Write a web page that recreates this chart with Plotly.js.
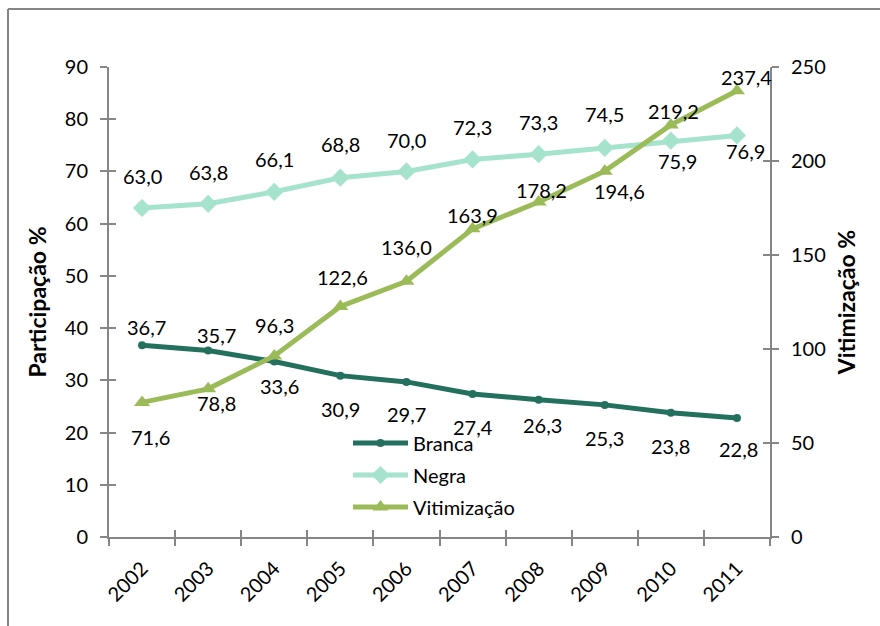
<!DOCTYPE html>
<html>
<head>
<meta charset="utf-8">
<script src="https://cdn.plot.ly/plotly-3.0.1.min.js"></script>
<style>
html,body{margin:0;padding:0;background:#fff;}
#chart{width:880px;height:626px;}
</style>
</head>
<body>
<div id="chart"></div>
<script>
// ---- data ----
var years = ['2002','2003','2004','2005','2006','2007','2008','2009','2010','2011'];
var branca = [36.7, 35.7, 33.6, 30.9, 29.7, 27.4, 26.3, 25.3, 23.8, 22.8];
var negra = [63.0, 63.8, 66.1, 68.8, 70.0, 72.3, 73.3, 74.5, 75.9, 76.9];
var vitimizacao = [71.6, 78.8, 96.3, 122.6, 136.0, 163.9, 178.2, 194.6, 219.2, 237.4];

// ---- data-label placement (pixel offsets from each point, as placed in the original) ----
var brancaLabelDx = [4, 8, 5, 0, 0, 0, 4, 0, 0, 2];
var brancaLabelDy = [-18, -16, 24, 33, 32, 33, 25, 33, 33, 31];
var negraLabelDx = [0, 0, 0, 0, 0, 0, 0, 0, 7, 9];
var negraLabelDy = [-32, -32, -33, -34, -31, -32, -32, -34, 20, 16];
var vitLabelDx = [8, 8, 0, 2, 0, 0, 3, 15, 3, 10];
var vitLabelDy = [35, 14, -31, -30, -34, -14, -12, 20, -14, -14];

function fmt(v){ return v.toFixed(1).replace('.', ','); }

var FONT = 'Lato, "Open Sans", sans-serif';
var AX = '#868686';
var L = 109, R = 770, T = 67, B = 537;
function px(x){ return (x - L) / (R - L); }
function py(y){ return (B - y) / (B - T); }

var traces = [
  {
    x: years, y: branca, name: 'Branca', type: 'scatter', mode: 'lines+markers',
    line: {color: '#23705f', width: 5}, marker: {symbol: 'circle', size: 8, color: '#23705f'},
    xaxis: 'x', yaxis: 'y', legend: 'legend', cliponaxis: false
  },
  {
    x: years, y: negra, name: 'Negra', type: 'scatter', mode: 'lines+markers',
    line: {color: '#a6e3cd', width: 5}, marker: {symbol: 'diamond', size: 14, color: '#a6e3cd'},
    xaxis: 'x', yaxis: 'y', legend: 'legend2', cliponaxis: false
  },
  {
    x: years, y: vitimizacao, name: 'Vitimização', type: 'scatter', mode: 'lines+markers',
    line: {color: '#9bbb59', width: 5}, marker: {symbol: 'triangle-up', size: 14, color: '#9bbb59'},
    xaxis: 'x', yaxis: 'y2', legend: 'legend3', cliponaxis: false
  },
  // empty traces so the tick-overlay axes get drawn
  {x: [], y: [], xaxis: 'x2', yaxis: 'y3', showlegend: false, hoverinfo: 'skip', type: 'scatter'},
  {x: [], y: [], xaxis: 'x2', yaxis: 'y4', showlegend: false, hoverinfo: 'skip', type: 'scatter'}
];

// annotations on a category axis take the category index
function labels(vals, yref, dx, dy){
  return vals.map(function(v, i){
    return {
      x: years.indexOf(years[i]), y: v, xref: 'x', yref: yref, text: fmt(v), showarrow: false,
      xanchor: 'center', yanchor: 'middle', xshift: dx[i], yshift: -dy[i],
      font: {family: FONT, size: 20, color: '#000'}
    };
  });
}
var annotations = [].concat(
  labels(branca, 'y', brancaLabelDx, brancaLabelDy),
  labels(negra, 'y', negraLabelDx, negraLabelDy),
  labels(vitimizacao, 'y2', vitLabelDx, vitLabelDy)
);

var legendCommon = {
  font: {family: FONT, size: 20, color: '#000'},
  bgcolor: 'rgba(0,0,0,0)', borderwidth: 0,
  xanchor: 'left', yanchor: 'middle', itemwidth: 55
};

var layout = {
  width: 880, height: 626,
  margin: {l: L, r: 880 - R, t: T, b: 626 - B},
  paper_bgcolor: '#fff', plot_bgcolor: '#fff',
  font: {family: FONT, size: 20, color: '#000'},
  separators: ',.',
  showlegend: true,
  annotations: annotations,
  xaxis: {
    type: 'category', categoryarray: years, tickson: 'boundaries',
    range: [-0.5, years.length - 0.5],
    ticks: 'outside', ticklen: 7, tickcolor: AX, tickwidth: 2,
    showline: true, linecolor: AX, linewidth: 2,
    showgrid: false, zeroline: false, tickangle: -45,
    ticklabelstandoff: 10,
    tickfont: {family: FONT, size: 20, color: '#000'},
    anchor: 'y'
  },
  xaxis2: {
    overlaying: 'x', range: [-0.5, 9.5], tickmode: 'array',
    tickvals: [-0.5,0.5,1.5,2.5,3.5,4.5,5.5,6.5,7.5,8.5,9.5],
    ticks: 'inside', ticklen: 7, tickcolor: AX, tickwidth: 2,
    showticklabels: false, showline: false, showgrid: false, zeroline: false,
    anchor: 'y', side: 'bottom'
  },
  yaxis: {
    range: [0, 90], dtick: 10, tick0: 0,
    ticks: 'outside', ticklen: 7, tickcolor: AX, tickwidth: 2,
    showline: true, linecolor: AX, linewidth: 2,
    showgrid: false, zeroline: false, ticklabelstandoff: 8,
    tickfont: {family: FONT, size: 20, color: '#000'},
    title: {text: 'Participação %', font: {family: FONT, size: 23, color: '#000', weight: 'bold'}, standoff: 12}
  },
  yaxis2: {
    range: [0, 250], dtick: 50, tick0: 0, overlaying: 'y', side: 'right',
    ticks: 'outside', ticklen: 7, tickcolor: AX, tickwidth: 2,
    showline: true, linecolor: AX, linewidth: 2,
    showgrid: false, zeroline: false, ticklabelstandoff: 8,
    tickfont: {family: FONT, size: 20, color: '#000'},
    title: {text: 'Vitimização %', font: {family: FONT, size: 23, color: '#000', weight: 'bold'}, standoff: 14}
  },
  yaxis3: {
    range: [0, 90], dtick: 10, overlaying: 'y', side: 'left', anchor: 'x2',
    ticks: 'inside', ticklen: 7, tickcolor: AX, tickwidth: 2,
    showticklabels: false, showline: false, showgrid: false, zeroline: false
  },
  yaxis4: {
    range: [0, 250], dtick: 50, overlaying: 'y', side: 'right', anchor: 'x2',
    ticks: 'inside', ticklen: 7, tickcolor: AX, tickwidth: 2,
    showticklabels: false, showline: false, showgrid: false, zeroline: false
  },
  legend: Object.assign({x: px(348), y: py(443)}, legendCommon),
  legend2: Object.assign({x: px(348), y: py(475)}, legendCommon),
  legend3: Object.assign({x: px(348), y: py(507)}, legendCommon),
  shapes: [
    {type: 'line', xref: 'paper', yref: 'paper', x0: px(8), x1: px(880), y0: py(9), y1: py(9), line: {color: AX, width: 2}},
    {type: 'line', xref: 'paper', yref: 'paper', x0: px(8), x1: px(8), y0: py(9), y1: py(626), line: {color: AX, width: 2}}
  ]
};

Plotly.newPlot('chart', traces, layout, {displayModeBar: false, staticPlot: true});
</script>
</body>
</html>
